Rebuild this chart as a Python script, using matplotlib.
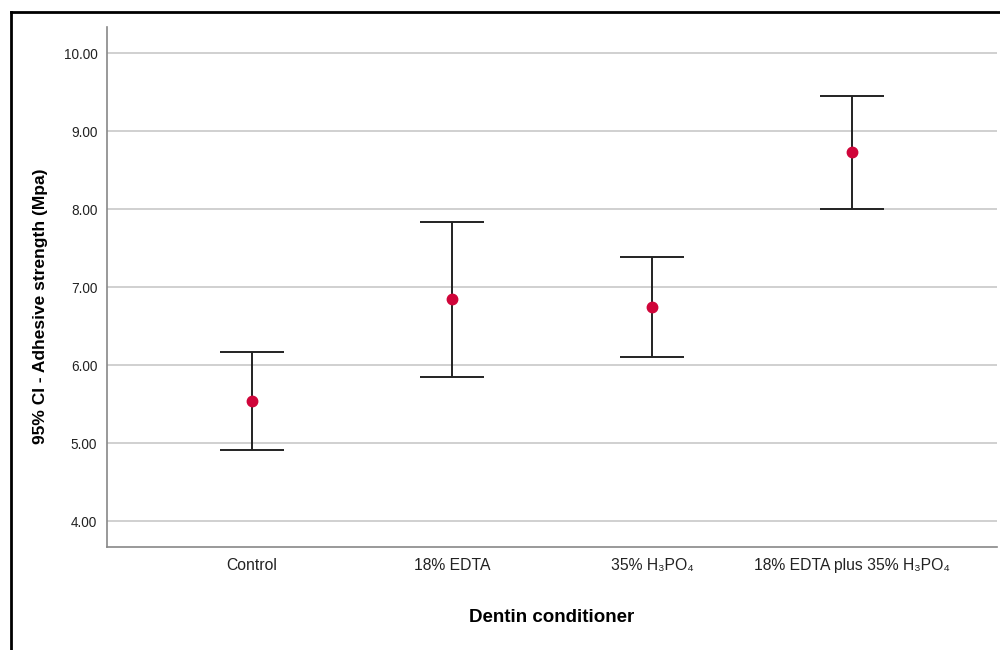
import numpy as np
import matplotlib.pyplot as plt
from matplotlib.lines import Line2D

plt.rcParams['font.family'] = ['Liberation Sans', 'DejaVu Sans']

# data
groups = ['Control', '18% EDTA', '35% H\u2083PO\u2084', '18% EDTA plus 35% H\u2083PO\u2084']
means = [5.54, 6.85, 6.74, 8.73]
ci_low = [4.91, 5.85, 6.10, 8.00]
ci_high = [6.17, 7.83, 7.39, 9.45]
yticks = [4, 5, 6, 7, 8, 9, 10]

fig = plt.figure(figsize=(10, 6.5), dpi=100)
ax = fig.add_axes([0.107, 0.1585, 0.89, 0.7995])

x = np.arange(len(groups))
m = np.array(means)
err = [m - np.array(ci_low), np.array(ci_high) - m]
ax.errorbar(x, m, yerr=err, fmt='none', ecolor='#222222', elinewidth=1.4,
            capsize=23, capthick=1.4, zorder=3)
ax.plot(x, m, 'o', color='#d0053a', markersize=7.5, zorder=4)

ax.set_xlim(-0.725, 3.725)
ax.set_ylim(3.667, 10.333)
ax.set_yticks(yticks)
ax.set_yticklabels([f'{v:.2f}' for v in yticks])
ax.set_xticks(x)
ax.set_xticklabels(groups)
ax.tick_params(length=0, colors='#222222')
ax.tick_params(axis='y', pad=7, labelsize=9.8)
ax.tick_params(axis='x', pad=8, labelsize=11.3)
ax.yaxis.grid(True, color='#c8c8c8', linewidth=1.2)
ax.set_axisbelow(True)
for s in ['top', 'right']:
    ax.spines[s].set_visible(False)
for s in ['left', 'bottom']:
    ax.spines[s].set_color('#888888')
    ax.spines[s].set_linewidth(1.2)

ax.set_ylabel('95% CI - Adhesive strength (Mpa)', fontsize=12.5, fontweight='bold')
ax.yaxis.set_label_coords(-0.066, 0.463)
fig.text(0.552, 1 - 618 / 650, 'Dentin conditioner', fontsize=13.5, fontweight='bold',
         ha='center', va='center')

# outer frame (left and top edges)
fig.add_artist(Line2D([0.011, 0.011], [0, 0.9815], color='black', linewidth=2, transform=fig.transFigure))
fig.add_artist(Line2D([0.011, 1], [0.9815, 0.9815], color='black', linewidth=2, transform=fig.transFigure))

fig.savefig('out.png', dpi=100)
